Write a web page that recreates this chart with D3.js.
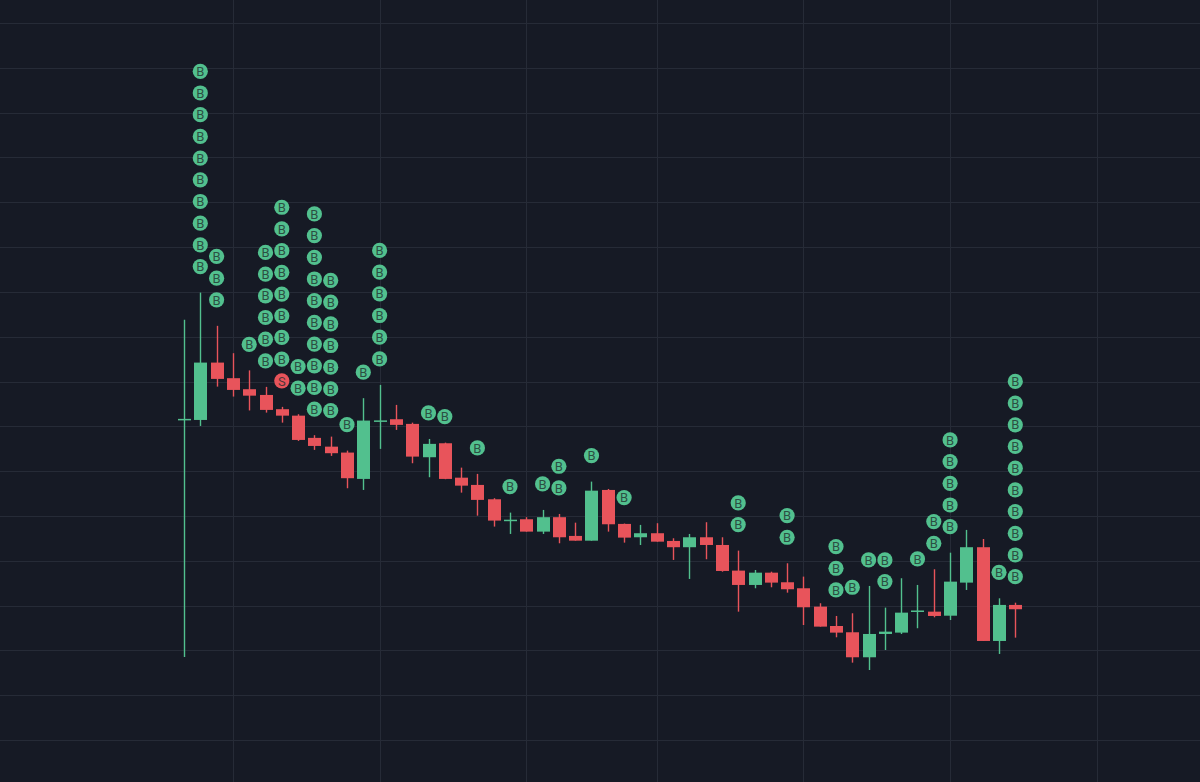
<!DOCTYPE html>
<html>
<head>
<meta charset="utf-8">
<script src="https://cdn.jsdelivr.net/npm/d3@7"></script>
<style>
    html, body { margin: 0; padding: 0; background: #161a25; overflow: hidden; }
    svg { display: block; }
</style>
</head>
<body>
<div id="chart"></div>
<script>
(function() {
    'use strict';

    // bar data (oldest first)
    var opens  = [55.74, 55.71, 62.11, 60.37, 59.14, 58.50, 56.91, 56.19, 53.71, 52.73,
                  52.07, 49.13, 55.58, 55.79, 55.27, 51.55, 53.11, 49.27, 48.46, 46.86,
                  44.50, 44.63, 43.25, 44.86, 42.77, 42.24, 47.90, 44.11, 42.62, 43.07,
                  42.21, 41.51, 42.62, 41.76, 38.90, 37.30, 38.67, 37.60, 36.93, 34.88,
                  32.72, 32.02, 29.23, 31.83, 31.98, 34.29, 34.32, 33.87, 37.56, 41.51,
                  31.05, 35.07];
    var highs  = [66.88, 69.92, 66.21, 63.16, 61.24, 59.40, 57.17, 56.35, 54.01, 53.85,
                  52.29, 58.14, 59.62, 57.39, 55.41, 53.59, 53.18, 50.39, 49.69, 46.98,
                  45.37, 44.86, 45.67, 45.22, 44.25, 48.83, 48.01, 44.15, 44.00, 44.19,
                  42.51, 42.99, 44.30, 42.62, 41.13, 38.97, 38.78, 39.72, 38.23, 35.26,
                  33.84, 34.14, 37.19, 34.77, 38.05, 37.30, 39.05, 40.90, 43.44, 42.43,
                  35.81, 35.32];
    var lows   = [29.26, 55.04, 59.43, 58.32, 56.77, 56.53, 55.41, 53.37, 52.37, 51.70,
                  48.09, 47.90, 52.48, 54.60, 50.88, 49.32, 49.10, 47.60, 45.03, 43.81,
                  42.99, 43.25, 42.99, 41.95, 42.24, 42.24, 43.25, 42.02, 41.76, 42.13,
                  40.09, 37.97, 40.17, 38.78, 34.32, 36.93, 37.04, 36.44, 32.83, 32.65,
                  31.46, 28.63, 27.81, 30.04, 31.83, 32.47, 33.69, 33.39, 36.74, 31.05,
                  29.60, 31.42];
    var closes = [55.83, 62.11, 60.29, 59.06, 58.42, 56.83, 56.19, 53.48, 52.81, 52.00,
                  49.21, 55.64, 55.66, 55.16, 51.62, 53.04, 49.13, 48.38, 46.79, 44.48,
                  44.58, 43.25, 44.86, 42.62, 42.24, 47.82, 44.07, 42.58, 43.07, 42.13,
                  41.51, 42.62, 41.76, 38.86, 37.30, 38.67, 37.56, 36.82, 34.81, 32.65,
                  31.98, 29.23, 31.83, 32.09, 34.21, 34.45, 33.84, 37.67, 41.51, 31.05,
                  35.07, 34.59];

    // signals per bar
    var buyCounts  = [0, 10, 3, 0, 1, 6, 8, 2, 10, 7,
                      1, 1, 6, 0, 0, 1, 1, 0, 1, 0,
                      1, 0, 1, 2, 0, 1, 0, 1, 0, 0,
                      0, 0, 0, 0, 2, 0, 0, 2, 0, 0,
                      3, 1, 1, 2, 0, 1, 2, 5, 0, 0,
                      1, 10];
    var sellCounts = [0, 0, 0, 0, 0, 0, 1, 0, 0, 0,
                      0, 0, 0, 0, 0, 0, 0, 0, 0, 0,
                      0, 0, 0, 0, 0, 0, 0, 0, 0, 0,
                      0, 0, 0, 0, 0, 0, 0, 0, 0, 0,
                      0, 0, 0, 0, 0, 0, 0, 0, 0, 0,
                      0, 0];

    // time grid marks (bar index) and price grid
    var timeTicks = [3, 12, 21, 29, 38, 47, 56];
    var priceTicks = d3.range(20, 101, 5);

    var width = 1200,
        height = 782;
    var upColor = "#52c08e",
        downColor = "#e8545b",
        gridColor = "#262b37";
    var bodyW = 13,
        markerR = 7.6,
        markerGap = 26,
        markerStep = 21.7;

    var bars = opens.map(function(o, i) {
        return { i: i, open: o, high: highs[i], low: lows[i], close: closes[i],
                 buys: buyCounts[i], sells: sellCounts[i] };
    });

    var x = d3.scaleLinear().domain([0, 51]).range([184, 1015.3]);
    var y = d3.scaleLinear().domain([20, 100]).range([740, 23]);

    var svg = d3.select("#chart")
        .append("svg")
        .attr("width", width)
        .attr("height", height);

    svg.append("rect")
        .attr("width", width)
        .attr("height", height)
        .attr("fill", "#161a25");

    var grid = svg.append("g").attr("class", "grid");
    grid.selectAll(".hline")
        .data(priceTicks)
        .enter().append("line")
        .attr("x1", 0)
        .attr("x2", width)
        .attr("y1", function(d) { return Math.round(y(d)) + 0.5; })
        .attr("y2", function(d) { return Math.round(y(d)) + 0.5; })
        .attr("stroke", gridColor);
    grid.selectAll(".vline")
        .data(timeTicks)
        .enter().append("line")
        .attr("y1", 0)
        .attr("y2", height)
        .attr("x1", function(d) { return Math.round(x(d)) + 0.5; })
        .attr("x2", function(d) { return Math.round(x(d)) + 0.5; })
        .attr("stroke", gridColor);

    function colorOf(d) {
        return d.close >= d.open ? upColor : downColor;
    }

    var candle = svg.selectAll(".candle")
        .data(bars)
        .enter().append("g")
        .attr("class", "candle");

    candle.append("line")
        .attr("x1", function(d) { return Math.round(x(d.i)) + 0.5; })
        .attr("x2", function(d) { return Math.round(x(d.i)) + 0.5; })
        .attr("y1", function(d) { return y(d.high); })
        .attr("y2", function(d) { return y(d.low); })
        .attr("stroke", colorOf)
        .attr("stroke-width", 1.4);

    candle.append("rect")
        .attr("x", function(d) { return Math.round(x(d.i)) + 0.5 - bodyW / 2; })
        .attr("width", bodyW)
        .attr("y", function(d) { return y(Math.max(d.open, d.close)); })
        .attr("height", function(d) {
            return Math.max(1.5, Math.abs(y(d.open) - y(d.close)));
        })
        .attr("fill", colorOf);

    // stacked signal markers above each bar, sells closest to the bar
    var markers = [];
    bars.forEach(function(d) {
        var k = 0;
        for (var s = 0; s < d.sells; s++) markers.push({ i: d.i, high: d.high, k: k++, type: "S" });
        for (var b = 0; b < d.buys; b++) markers.push({ i: d.i, high: d.high, k: k++, type: "B" });
    });

    var marker = svg.selectAll(".marker")
        .data(markers)
        .enter().append("g")
        .attr("class", "marker")
        .attr("transform", function(d) {
            return "translate(" + x(d.i) + "," + (y(d.high) - markerGap - d.k * markerStep) + ")";
        });

    marker.append("circle")
        .attr("r", markerR)
        .attr("fill", function(d) { return d.type === "B" ? upColor : downColor; });

    marker.append("text")
        .attr("text-anchor", "middle")
        .attr("dy", "0.36em")
        .attr("font-family", "Roboto, 'DejaVu Sans', sans-serif")
        .attr("font-size", 13)
        .attr("fill", "#22302e")
        .attr("fill-opacity", 0.8)
        .text(function(d) { return d.type; });
}());
</script>
</body>
</html>
